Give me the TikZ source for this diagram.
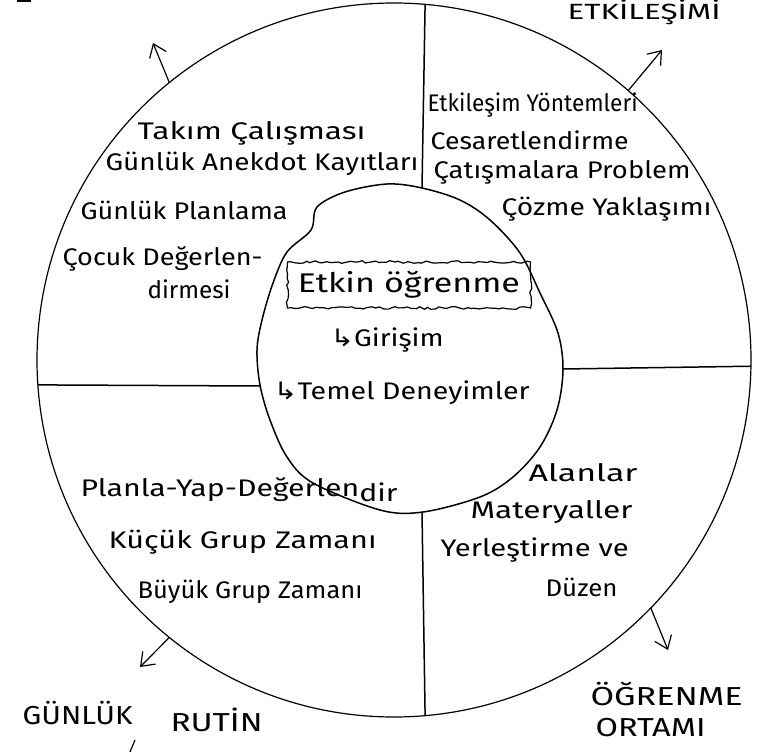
\documentclass[tikz,border=0pt]{standalone}
\usepackage{fontspec}
\usepackage{graphicx}
\setmainfont{Fira Sans}
\newfontfamily\hand{Fira Sans}
\newfontfamily\symf{DejaVu Sans}
\newcommand\fitw[2]{\resizebox{#1pt}{\height}{#2}}
\usetikzlibrary{arrows.meta,decorations.pathmorphing}
\pgfmathsetseed{7}
\begin{document}
\begin{tikzpicture}[x=1pt,y=-1pt,line width=1.2pt,
  txt/.style={inner sep=0pt, anchor=west, font=\hand\fontsize{24}{28}\selectfont},
  bigtxt/.style={font=\hand\fontsize{27}{31}\selectfont},
  lab/.style={inner sep=0pt, anchor=west, font=\hand\fontsize{26}{30}\selectfont},
  ring/.style={circle, draw, inner sep=0pt, outer sep=0pt},
  divider/.style={draw, line width=1.5pt},
  outarrow/.style={-{Straight Barb[length=12pt,width=18pt]}},
  wavybox/.style={draw, decorate, decoration={random steps, segment length=4pt, amplitude=1.3pt}, inner xsep=10pt, inner ysep=6pt, minimum width=243pt, minimum height=46pt}]
\useasboundingbox (0,0) rectangle (758,752);

% outer ring
\node[ring, minimum size=714pt] (outer) at (394,360) {};

% inner irregular circle
\draw[line width=1.5pt] plot[smooth cycle, tension=0.55] coordinates {
  (387,184) (422,188) (460,200) (490,220) (520,253) (540,293) (558,333)
  (563,370) (557,410) (540,447) (513,477) (480,497) (423,512) (380,510)
  (313,483) (287,457) (270,420) (260,385) (257,350) (262,320) (273,283)
  (287,252) (311,230) (317,207) (345,192)};
\coordinate (iT) at (422,188);
\coordinate (iR) at (563,369);
\coordinate (iB) at (422,512);
\coordinate (iL) at (260,386);

% dividers
\draw[divider] (outer.85.5) -- (iT);
\draw[divider] (outer.-1.3) -- (iR);
\draw[divider] (outer.-85.5) -- (iB);
\draw[divider] (outer.184.8) -- (iL);

% outward arrows
\coordinate (a1) at (153,43);
\coordinate (a2) at (662,50);
\coordinate (a3) at (140,667);
\coordinate (a4) at (668,650);
\draw[outarrow] (outer.129.7) -- (a1);
\draw[outarrow] (outer.49.4) -- (a2);
\draw[outarrow] (outer.231) -- (a3);
\draw[outarrow] (outer.-44.9) -- (a4);

% stray strokes
\coordinate (s1) at (135,740);
\coordinate (s2) at (130,752);
\draw (s1) -- (s2);
\coordinate (s3) at (17,1);
\coordinate (s4) at (31,1);
\draw[line width=3pt] (s3) -- (s4);

% top-left quadrant
\node[txt] (t1) at (137,133) {\fitw{228}{Takım Çalışması}};
\node[txt] (t2) at (105,164) {\fitw{313}{Günlük Anekdot Kayıtları}};
\node[txt] (t3) at (80,210) {\fitw{207}{Günlük Planlama}};
\node[txt] (t4) at (62,259) {\fitw{200}{Çocuk Değerlen-}};
\node[txt] (t5) at (147,289) {\fitw{83}{dirmesi}};

% top-right quadrant
\node[txt] (e1) at (427,105) {\fitw{210}{Etkileşim Yöntemleri}};
\node[txt] (e2) at (430,140) {\fitw{198}{Cesaretlendirme}};
\node[txt] (e3) at (433,172) {\fitw{257}{Çatışmalara Problem}};
\node[txt] (e4) at (501,209) {\fitw{210}{Çözme Yaklaşımı}};

% centre
\node[wavybox, bigtxt] (ek) at (409,285) {\fitw{222}{Etkin öğrenme}};
\node[txt] (g1) at (330,340) {\fitw{113}{{\symf ↳}Girişim}};
\node[txt] (g2) at (273,393) {\fitw{256}{{\symf ↳}Temel Deneyimler}};

% bottom-left quadrant
\node[txt] (p1) at (80,490) {\fitw{317}{Planla-Yap-Değerlen\raisebox{-5pt}{dir}}};
\node[txt] (p2) at (108,542) {\fitw{268}{Küçük Grup Zamanı}};
\node[txt] (p3) at (137,592) {\fitw{225}{Büyük Grup Zamanı}};

% bottom-right quadrant
\node[txt] (m1) at (528,473) {\fitw{109}{Alanlar}};
\node[txt] (m2) at (470,512) {\fitw{162}{Materyaller}};
\node[txt] (m3) at (440,550) {\fitw{188}{Yerleştirme ve}};
\node[txt] (m4) at (545,587) {\fitw{72}{Düzen}};

% outer labels
\node[lab, font=\hand\fontsize{22}{26}\selectfont] (L1) at (567,12) {\fitw{153}{ETKİLEŞİMİ}};
\node[lab] (L2) at (22,713) {\fitw{110}{GÜNLÜK}};
\node[lab] (L3) at (170,720) {\fitw{92}{RUTİN}};
\node[lab] (L4) at (590,694) {\fitw{152}{ÖĞRENME}};
\node[lab] (L5) at (595,728) {\fitw{110}{ORTAMI}};
\end{tikzpicture}
\end{document}
